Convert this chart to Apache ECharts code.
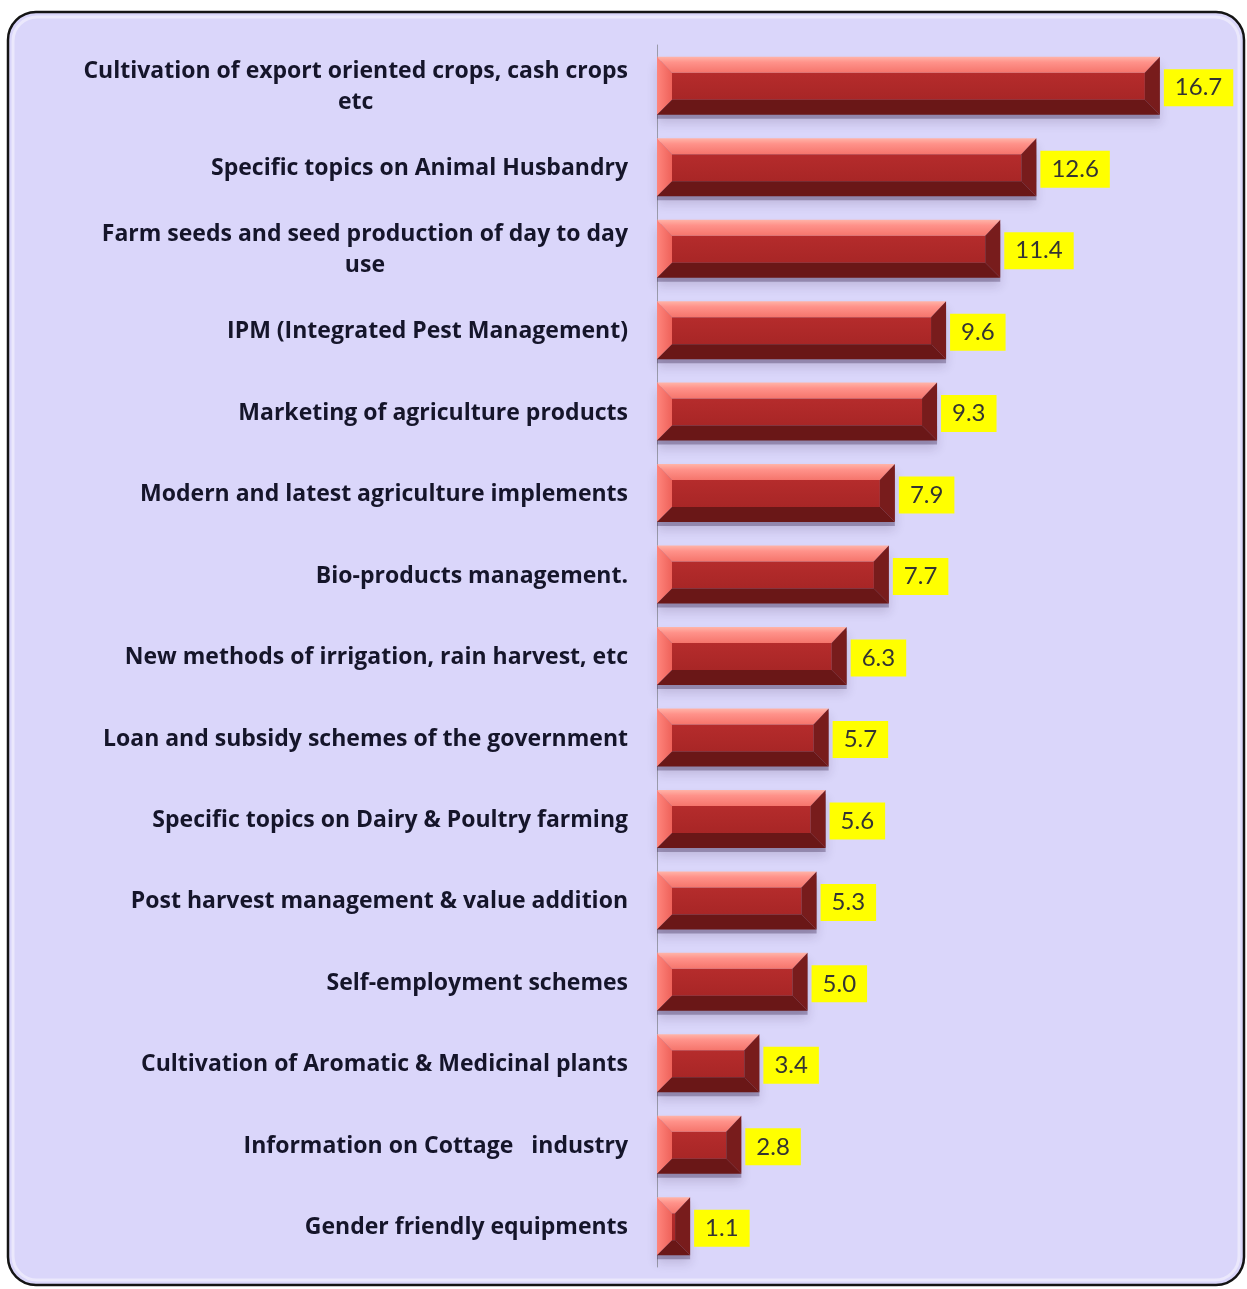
<!DOCTYPE html>
<html>
<head>
<meta charset="utf-8">
<script src="https://cdn.jsdelivr.net/npm/echarts@6/dist/echarts.min.js"></script>
<style>
html,body{margin:0;padding:0;background:#ffffff;}
#chart{width:1247px;height:1289px;}
</style>
</head>
<body>
<div id="chart"></div>
<script>
var categories = [
  "Cultivation of export oriented crops, cash crops\netc",
  "Specific topics on Animal Husbandry",
  "Farm seeds and seed production of day to day\nuse",
  "IPM (Integrated Pest Management)",
  "Marketing of agriculture products",
  "Modern and latest agriculture implements",
  "Bio-products management.",
  "New methods of irrigation, rain harvest, etc",
  "Loan and subsidy schemes of the government",
  "Specific topics on Dairy & Poultry farming",
  "Post harvest management & value addition",
  "Self-employment schemes",
  "Cultivation of Aromatic & Medicinal plants",
  "Information on Cottage   industry",
  "Gender friendly equipments"
];
var values = [16.7, 12.6, 11.4, 9.6, 9.3, 7.9, 7.7, 6.3, 5.7, 5.6, 5.3, 5.0, 3.4, 2.8, 1.1];

var chart = echarts.init(document.getElementById('chart'), null, {renderer: 'canvas'});

function renderBar(params, api) {
  var v = api.value(0);
  var ci = api.value(1);
  var p0 = api.coord([0, ci]);
  var p1 = api.coord([v, ci]);
  var band = api.size([0, 1])[1];
  var h = band * 0.712;
  var x0 = p0[0], x1 = p1[0];
  var y0 = p0[1] - h / 2, y1 = y0 + h;
  var bs = Math.min(15, (x1 - x0) / 2);
  var bt = 16, bb = 15;
  var label = v.toFixed(1);
  return {
    type: 'group',
    children: [
      {type: 'rect', shape: {x: x0, y: y0 + 4, width: x1 - x0, height: h}, z2: 1,
        style: {fill: 'rgba(60,40,80,0.35)', shadowBlur: 10, shadowColor: 'rgba(40,20,60,0.45)', shadowOffsetY: 4}},
      {type: 'rect', shape: {x: x0 + bs, y: y0 + bt, width: Math.max(0, x1 - x0 - 2 * bs), height: h - bt - bb}, z2: 2,
        style: {fill: new echarts.graphic.LinearGradient(0, 0, 0, 1, [{offset: 0, color: '#B52C2C'}, {offset: 1, color: '#A82626'}])}},
      {type: 'polygon', shape: {points: [[x0, y0], [x1, y0], [x1 - bs, y0 + bt], [x0 + bs, y0 + bt]]}, z2: 3,
        style: {fill: new echarts.graphic.LinearGradient(0, 0, 0, 1, [{offset: 0, color: '#FFB4A8'}, {offset: 0.35, color: '#FF928A'}, {offset: 1, color: '#F5756C'}])}},
      {type: 'polygon', shape: {points: [[x0, y0], [x0 + bs, y0 + bt], [x0 + bs, y1 - bb], [x0, y1]]}, z2: 3,
        style: {fill: new echarts.graphic.LinearGradient(0, 0, 1, 0, [{offset: 0, color: '#FF857C'}, {offset: 1, color: '#EE625A'}])}},
      {type: 'polygon', shape: {points: [[x0, y1], [x0 + bs, y1 - bb], [x1 - bs, y1 - bb], [x1, y1]]}, z2: 3,
        style: {fill: '#6A1717'}},
      {type: 'polygon', shape: {points: [[x1, y0], [x1, y1], [x1 - bs, y1 - bb], [x1 - bs, y0 + bt]]}, z2: 3,
        style: {fill: '#781C1C'}},
      {type: 'text', z2: 5,
        style: {text: label, x: x1 + 4, y: p0[1] + 2, align: 'left', verticalAlign: 'middle',
          fontFamily: 'Lato', fontSize: 24, fill: '#333333',
          backgroundColor: '#FFFF00', padding: [7, 11, 6, 11]}}
    ]
  };
}

var option = {
  backgroundColor: '#ffffff',
  animation: false,
  graphic: [
    {type: 'rect', z: -10, shape: {x: 8, y: 12, width: 1236, height: 1273, r: 28},
      style: {fill: '#DAD6FA', stroke: '#141414', lineWidth: 2.5}},
    {type: 'rect', z: -9, shape: {x: 13, y: 17, width: 1226, height: 1263, r: 24},
      style: {fill: 'none', stroke: 'rgba(255,255,255,0.45)', lineWidth: 3}}
  ],
  grid: {left: 657, top: 45, width: 542, height: 1222, containLabel: false},
  xAxis: {type: 'value', min: 0, max: 18, show: false},
  yAxis: {
    type: 'category', inverse: true, data: categories,
    axisLine: {show: true, lineStyle: {color: '#9A9AAA', width: 1}},
    axisTick: {show: false},
    splitLine: {show: false},
    axisLabel: {
      margin: 29,
      align: 'right',
      formatter: function (val) {
        return val.split('\n').map(function (s) { return '{c|' + s + '}'; }).join('\n');
      },
      rich: {
        c: {fontFamily: 'Open Sans', fontWeight: 'bold', fontSize: 23, color: '#15152A', align: 'center', lineHeight: 31, padding: [3, 0, 0, 0]}
      }
    }
  },
  series: [{
    type: 'custom',
    renderItem: renderBar,
    encode: {x: 0, y: 1},
    data: values.map(function (v, i) { return [v, i]; })
  }]
};
chart.setOption(option);
</script>
</body>
</html>
